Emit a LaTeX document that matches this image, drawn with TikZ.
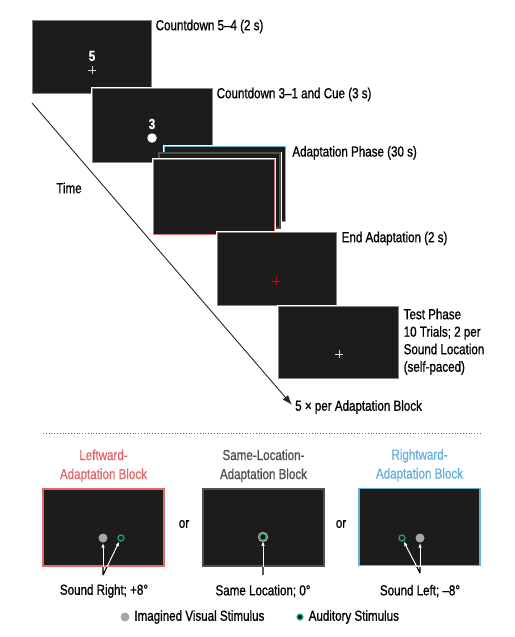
\documentclass[tikz,border=0pt]{standalone}
\usepackage{fontspec}
\setmainfont[FakeStretch=0.8,FakeBold=0.9]{Liberation Sans}
\usetikzlibrary{arrows.meta,positioning,shapes.misc}
\definecolor{screenbg}{HTML}{1E1C1B}
\definecolor{rimgray}{HTML}{858585}
\definecolor{leftred}{HTML}{E06868}
\definecolor{samegray}{HTML}{505050}
\definecolor{rightblue}{HTML}{66B0DA}
\definecolor{sndgreen}{HTML}{1F9E6E}
\definecolor{visgray}{HTML}{A6A6A6}

\begin{document}
\begin{tikzpicture}[x=1pt, y=-1pt, >={Latex[length=10pt,width=7pt]},
	screen/.style={shape=rectangle, draw=rimgray, fill=screenbg, line width=1pt, minimum width=119pt, minimum height=73pt, inner sep=0, preaction={draw=white, line width=3pt}},
	block/.style={screen, line width=1.5pt, minimum width=121pt, minimum height=77pt},
	lbl/.style={font=\fontsize{14.5}{17.5}\selectfont, inner sep=0, align=left},
	title/.style={font=\fontsize{14.5}{19}\selectfont, inner sep=0, align=center},
	digit/.style={font=\fontsize{14.5}{14.5}\selectfont\bfseries, text=white, inner sep=0},
	fixcross/.style={shape=cross out, draw, rotate=45, minimum size=4.3pt, inner sep=0, line width=0.8pt},
	visdot/.style={shape=circle, fill=visgray, minimum size=9pt, inner sep=0},
	snddot/.style={shape=circle, draw=sndgreen, fill=screenbg, line width=1.3pt, minimum size=6pt, inner sep=0},
	stim/.style={->, >={Latex[length=5pt,width=3.5pt]}, draw=white, line width=1pt}]
	% time axis
	\coordinate (t0) at (32,103);
	\coordinate (t1) at (292,405);
	\draw[->, draw=black!85, line width=0.9pt] (t0) -- (t1);
	\node[lbl, anchor=west] at ([xshift=3pt,yshift=-2pt]t1) {5 \texttimes\ per Adaptation Block};
	\node[lbl] (time) at (69,188) {Time};

	% trial sequence
	\node[screen] (f1) at (91.5,56.5) {};
	\node[digit] at (92,56) {5};
	\node[fixcross, draw=white!85!black] at (92,70) {};
	\node[lbl, anchor=north west] at ([xshift=4pt]f1.north east) {Countdown 5–4 (2 s)};

	\node[screen, minimum width=120pt, minimum height=74pt] (f2) at (152,125) {};
	\node[digit] at (152,124) {3};
	\node[shape=circle, fill=white, minimum size=9.5pt, inner sep=0] at (152,138) {};
	\node[lbl, anchor=north west] at ([xshift=4pt]f2.north east) {Countdown 3–1 and Cue (3 s)};

	\node[screen, draw=rightblue, line width=1.4pt, minimum width=121pt, minimum height=75pt] (ab) at (225,184) {};
	\node[screen, draw=samegray, line width=1.4pt, minimum width=121pt, minimum height=75pt] (ag) at (219.5,190.5) {};
	\node[screen, draw=leftred, line width=1.4pt, minimum width=121pt, minimum height=75pt] (ar) at (214,197) {};
	\node[lbl, anchor=north west] at ([xshift=6pt]ab.north east) {Adaptation Phase (30 s)};

	\node[screen] (f4) at (276.5,268.5) {};
	\node[fixcross, draw=red!85!black] at (276,281) {};
	\node[lbl, anchor=north west] at ([xshift=5pt]f4.north east) {End Adaptation (2 s)};

	\node[screen, minimum width=120pt, minimum height=72pt] (f5) at (338,342) {};
	\node[fixcross, draw=white!85!black] at (339,354) {};
	\node[lbl, anchor=north west] at ([xshift=5pt,yshift=-3pt]f5.north east) {Test Phase\\10 Trials; 2 per\\Sound Location\\(self-paced)};

	% separator
	\draw[draw=black!60, dotted, line width=0.8pt] (43,433) -- (480,433);

	% adaptation blocks
	\node[block, draw=leftred] (lf) at (103.5,527.5) {};
	\node[block, draw=samegray] (mf) at (263.5,527.5) {};
	\node[block, draw=rightblue] (rf) at (419.5,527) {};
	\node[title, text=leftred, above=6pt of lf] {Leftward-\\Adaptation Block};
	\node[title, text=samegray, above=6pt of mf] {Same-Location-\\Adaptation Block};
	\node[title, text=rightblue, above=6pt of rf] {Rightward-\\Adaptation Block};
	\node[lbl] at (184,524) {or};
	\node[lbl] at (341,524) {or};

	\node[visdot] (lv) at (103,538) {};
	\node[snddot] (ls) at (121,538) {};
	\node[visdot, minimum size=10.5pt] (mv) at (263,537) {};
	\node[snddot, fill=black, minimum size=6.5pt] (ms) at (263,537) {};
	\node[snddot] (rs) at (402,538) {};
	\node[visdot] (rv) at (420,538) {};

	\coordinate (lb) at (103,575);
	\coordinate (mb) at (263,575);
	\coordinate (rb) at (420,573);
	\draw[stim] (lb) -- (lv);
	\draw[stim] (lb) -- (ls);
	\draw[stim] (mb) -- (ms);
	\draw[stim] (rb) -- (rv);
	\draw[stim] (rb) -- (rs);
	\begin{scope}
		\clip ([yshift=-0.75pt]lf.south west) rectangle (514,600);
		\draw[black, line width=1.2pt] (lb) -- (lv) (lb) -- (ls) (mb) -- (ms) (rb) -- (rv) (rb) -- (rs);
	\end{scope}

	\node[lbl] at (104,591) {Sound Right; +8°};
	\node[lbl] at (263,591) {Same Location; 0°};
	\node[lbl] at (420,591) {Sound Left; –8°};

	% legend
	\node[visdot] (kv) at (125,617) {};
	\node[lbl, right=4.5pt of kv] {Imagined Visual Stimulus};
	\node[snddot, fill=black, minimum size=5.5pt, line width=1.5pt] (ks) at (300,617) {};
	\node[lbl, right=5pt of ks] {Auditory Stimulus};

	\useasboundingbox (0,0) rectangle (514,637);
\end{tikzpicture}
\end{document}
